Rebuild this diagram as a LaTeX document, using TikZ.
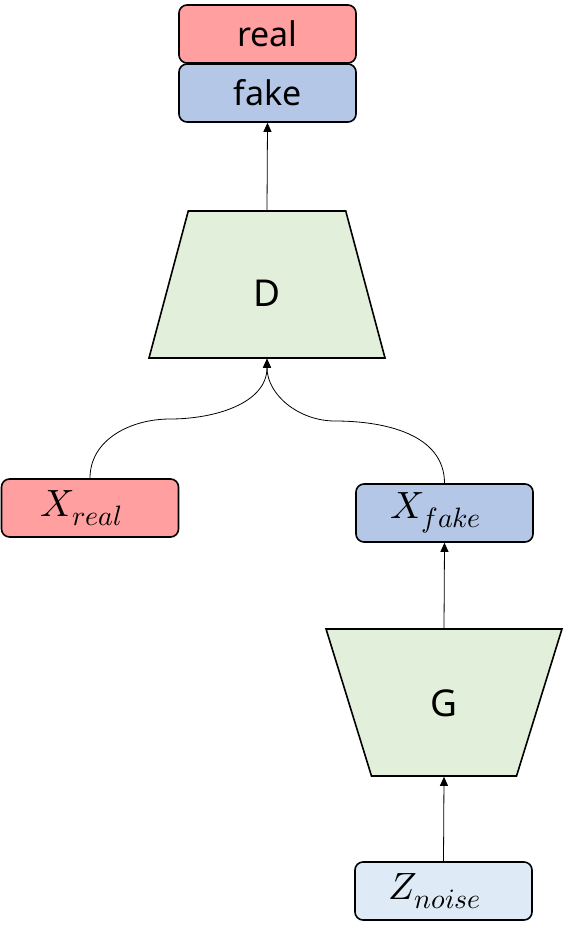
\documentclass[tikz,border=0pt]{standalone}
\usepackage{unicode-math}
\setmainfont{Noto Sans}
\setmathfont{Latin Modern Math}
\DeclareMathSizes{38}{38}{28}{20}
\usetikzlibrary{arrows.meta,shapes.geometric}

\definecolor{realred}{HTML}{FF9F9F}
\definecolor{fakeblue}{HTML}{B4C7E7}
\definecolor{netgreen}{HTML}{E2EFDA}
\definecolor{noiseblue}{HTML}{DEEBF7}

\tikzset{
  box/.style={draw, line width=1.6pt, rounded corners=8pt, minimum width=177pt,
    minimum height=58pt, inner sep=0pt, font=\fontsize{34}{40}\selectfont},
  mathbox/.style={box, font=\fontsize{38}{44}\selectfont,
    execute at end node={\hspace{17pt}}},
  net/.style={draw, line width=1.6pt, fill=netgreen, shape=trapezium,
    trapezium stretches=true, minimum width=236pt, minimum height=147pt,
    inner sep=2pt},
  netlabel/.style={font=\fontsize{37}{42}\selectfont},
  link/.style={line width=0.8pt, -{Triangle[length=9pt,width=8pt]}}
}

\begin{document}
\begin{tikzpicture}[x=1pt,y=-1pt]
\useasboundingbox (0,0) rectangle (564,926);

\node[box, fill=realred] (real) at (267.5,34) {real};
\node[box, fill=fakeblue] (fake) at (267.5,93) {fake};

\node[net, trapezium angle=76] (D) at (267,284.5) {};
\node[netlabel] at (267,293) (Dlabel) {D};

\node[mathbox, fill=realred] (xreal) at (90,508) {$X_{real}$};
\node[mathbox, fill=fakeblue] (xfake) at (444.5,513) {$X_{fake}$};

\node[net, trapezium angle=72.6, shape border rotate=180] (G) at (444,702.5) {};
\node[netlabel] at (444,703) (Glabel) {G};

\node[mathbox, fill=noiseblue] (znoise) at (443.5,891) {$Z_{noise}$};

\coordinate (lmid) at (170,419);
\coordinate (rmid) at (335,421);

\draw[link] (D.north) -- (fake.south);
\draw[link] (G.north) -- (xfake.south);
\draw[link] (znoise.north) -- (G.south);
\draw[line width=0.8pt] (xreal.north) to[out=90,in=180] (lmid);
\draw[link] (lmid) to[out=0,in=-90] (D.south);
\draw[line width=0.8pt] (xfake.north) to[out=90,in=0] (rmid);
\draw[link] (rmid) to[out=180,in=-90] (D.south);
\end{tikzpicture}
\end{document}
